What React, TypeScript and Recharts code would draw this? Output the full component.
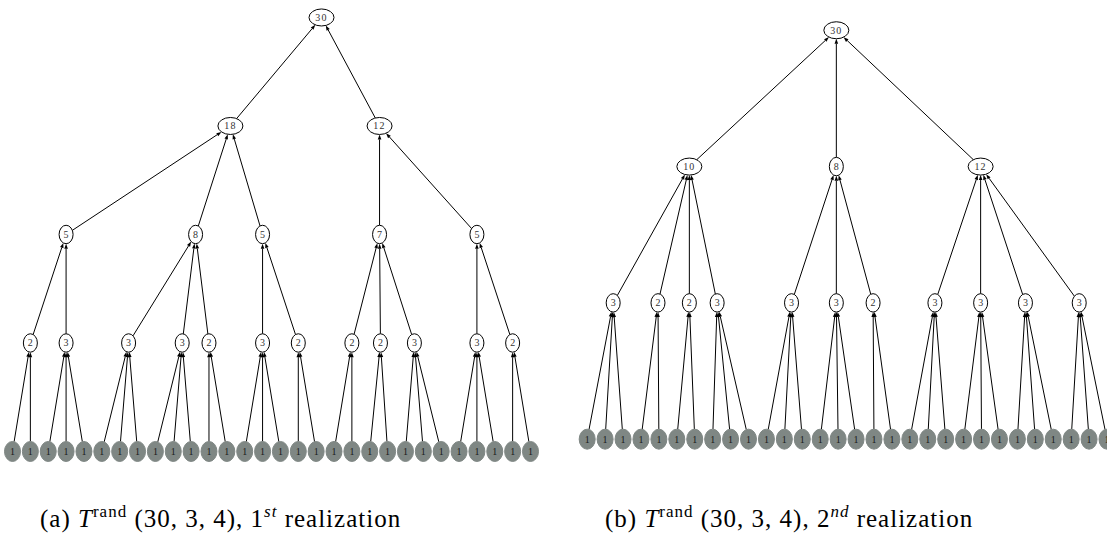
import React from 'react'
import { Scatter, ScatterChart, XAxis, YAxis } from 'recharts'

// Tree (a): per level, node labels, horizontal slot (in leaf units) and parent index
const aLabels0 = ['30']
const aSlots0 = [17.3]
const aLabels1 = ['18', '12']
const aSlots1 = [12.2, 20.55]
const aParents1 = [0, 0]
const aLabels2 = ['5', '8', '5', '7', '5']
const aSlots2 = [3, 10.25, 14, 20.55, 26]
const aParents2 = [0, 0, 0, 1, 1]
const aLabels3 = ['2', '3', '3', '3', '2', '3', '2', '2', '2', '3', '3', '2']
const aSlots3 = [1, 3, 6.5, 9.5, 11, 14, 16, 19, 20.6, 22.5, 26, 28]
const aParents3 = [0, 0, 1, 1, 1, 2, 2, 3, 3, 3, 4, 4]
const aLeafParents = [0, 0, 1, 1, 1, 2, 2, 2, 3, 3, 3, 4, 4, 5, 5, 5, 6, 6, 7, 7, 8, 8, 9, 9, 9, 10, 10, 10, 11, 11]

// Tree (b)
const bLabels0 = ['30']
const bSlots0 = [13.9]
const bLabels1 = ['10', '8', '12']
const bSlots1 = [5.7, 13.9, 21.95]
const bParents1 = [0, 0, 0]
const bLabels2 = ['3', '2', '2', '3', '3', '3', '2', '3', '3', '3', '3']
const bSlots2 = [1.45, 3.95, 5.7, 7.25, 11.4, 13.9, 15.95, 19.4, 21.95, 24.45, 27.45]
const bParents2 = [0, 0, 0, 0, 1, 1, 1, 2, 2, 2, 2]
const bLeafParents = [0, 0, 0, 1, 1, 2, 2, 3, 3, 3, 4, 4, 4, 5, 5, 5, 6, 6, 7, 7, 7, 8, 8, 8, 9, 9, 9, 10, 10, 10]

const captionTags = ['a', 'b']
const captionOrdinals = ['1', '2']
const captionSuffixes = ['st', 'nd']

const LEAF_FILL = '#7f8784'
const FONT = "'Liberation Serif', 'DejaVu Serif', serif"

type TreeNode = { label: string; u: number; d: number; rx: number; ry: number; leaf: boolean }
type Level = { labels: string[]; slots: number[]; parents: number[] }

function nodeSize(label: string, leaf: boolean) {
  if (leaf) return { rx: 8, ry: 10 }
  if (label.length > 1) return { rx: 12.5, ry: 8.5 }
  return { rx: 7, ry: 9.2 }
}

function buildTree(levels: Level[], leafParents: number[]) {
  const rows: TreeNode[][] = []
  const edges: TreeNode[] = []
  const all = [...levels, { labels: leafParents.map(() => '1'), slots: leafParents.map((_, i) => i), parents: leafParents }]
  all.forEach((lv, d) => {
    const leaf = d === all.length - 1
    const row = lv.labels.map((label, i) => ({ label, u: lv.slots[i], d, leaf, ...nodeSize(label, leaf) }))
    rows.push(row)
    if (d > 0) {
      row.forEach((n, i) => {
        const p = rows[d - 1][lv.parents[i]]
        edges.push({ ...n }, { ...p })
      })
    }
  })
  return { nodes: rows.flat(), edges }
}

const treeA = buildTree(
  [
    { labels: aLabels0, slots: aSlots0, parents: [] },
    { labels: aLabels1, slots: aSlots1, parents: aParents1 },
    { labels: aLabels2, slots: aSlots2, parents: aParents2 },
    { labels: aLabels3, slots: aSlots3, parents: aParents3 },
  ],
  aLeafParents,
)

const treeB = buildTree(
  [
    { labels: bLabels0, slots: bSlots0, parents: [] },
    { labels: bLabels1, slots: bSlots1, parents: bParents1 },
    { labels: bLabels2, slots: bSlots2, parents: bParents2 },
  ],
  bLeafParents,
)

function NodeShape(props: any) {
  const { cx, cy, payload } = props
  const n = payload as TreeNode
  return (
    <g>
      <ellipse
        cx={cx}
        cy={cy}
        rx={n.rx}
        ry={n.ry}
        fill={n.leaf ? LEAF_FILL : '#fff'}
        stroke={n.leaf ? LEAF_FILL : '#000'}
        strokeWidth={1}
      />
      <text
        x={cx}
        y={cy}
        textAnchor="middle"
        dominantBaseline="central"
        fontFamily={FONT}
        fontSize={10}
        letterSpacing={n.label.length > 1 ? 1.2 : 0}
        fill={n.leaf ? '#1a1a1a' : '#333'}
      >
        {n.label}
      </text>
    </g>
  )
}

// draws every child->parent pair as a line with a small arrowhead at the parent
function edgeRenderer(edges: TreeNode[]) {
  return (props: any) => {
    const pts = props.points as { x: number; y: number }[]
    const out: React.ReactNode[] = []
    for (let i = 0; i + 1 < pts.length; i += 2) {
      const c = edges[i]
      const p = edges[i + 1]
      const a = pts[i]
      const b = pts[i + 1]
      const dx = b.x - a.x
      const dy = b.y - a.y
      const len = Math.hypot(dx, dy)
      const ux = dx / len
      const uy = dy / len
      const tc = 1 / Math.sqrt((ux / c.rx) ** 2 + (uy / c.ry) ** 2)
      const tp = 1 / Math.sqrt((ux / p.rx) ** 2 + (uy / p.ry) ** 2)
      const x1 = a.x + ux * tc
      const y1 = a.y + uy * tc
      const x2 = b.x - ux * tp
      const y2 = b.y - uy * tp
      const bx = x2 - ux * 5
      const by = y2 - uy * 5
      out.push(
        <g key={i}>
          <line x1={x1} y1={y1} x2={bx} y2={by} stroke="#000" strokeWidth={1} />
          <path d={`M${x2},${y2}L${bx - uy * 1.8},${by + ux * 1.8}L${bx + uy * 1.8},${by - ux * 1.8}Z`} fill="#000" />
        </g>,
      )
    }
    return <g>{out}</g>
  }
}

type TreeChartProps = {
  tree: { nodes: TreeNode[]; edges: TreeNode[] }
  left: number
  width: number
  xDomain: [number, number]
  yDomain: [number, number]
}

function TreeChart({ tree, left, width, xDomain, yDomain }: TreeChartProps) {
  return (
    <div style={{ position: 'absolute', left, top: 0 }}>
      <ScatterChart width={width} height={550} margin={{ top: 0, right: 0, bottom: 0, left: 0 }}>
        <XAxis type="number" dataKey="u" domain={xDomain} allowDataOverflow hide />
        <YAxis type="number" dataKey="d" domain={yDomain} allowDataOverflow reversed hide />
        <Scatter
          data={tree.edges}
          line={edgeRenderer(tree.edges)}
          lineType="joint"
          shape={() => <g />}
          isAnimationActive={false}
        />
        <Scatter data={tree.nodes} shape={NodeShape} isAnimationActive={false} />
      </ScatterChart>
    </div>
  )
}

function Caption({ index, left }: { index: number; left: number }) {
  const sup: React.CSSProperties = { fontSize: 17, position: 'relative', top: -10, verticalAlign: 'baseline' }
  return (
    <div
      style={{
        position: 'absolute',
        left,
        top: 506,
        fontFamily: FONT,
        fontSize: 25,
        letterSpacing: 1,
        lineHeight: 1,
        color: '#000',
        whiteSpace: 'nowrap',
      }}
    >
      ({captionTags[index]}) <i>T</i>
      <span style={sup}>rand</span> (30, 3, 4), {captionOrdinals[index]}
      <i style={sup}>{captionSuffixes[index]}</i> realization
    </div>
  )
}

export default function App() {
  return (
    <div style={{ position: 'absolute', left: 0, top: 0, width: 1107, height: 550, background: '#fff', overflow: 'hidden' }}>
      <TreeChart tree={treeA} left={0} width={553} xDomain={[-0.7, 30.26]} yDomain={[-0.161, 4.908]} />
      <TreeChart tree={treeB} left={553} width={554} xDomain={[-1.907, 29.0]} yDomain={[-0.222, 3.813]} />
      <Caption index={0} left={40} />
      <Caption index={1} left={605} />
    </div>
  )
}
